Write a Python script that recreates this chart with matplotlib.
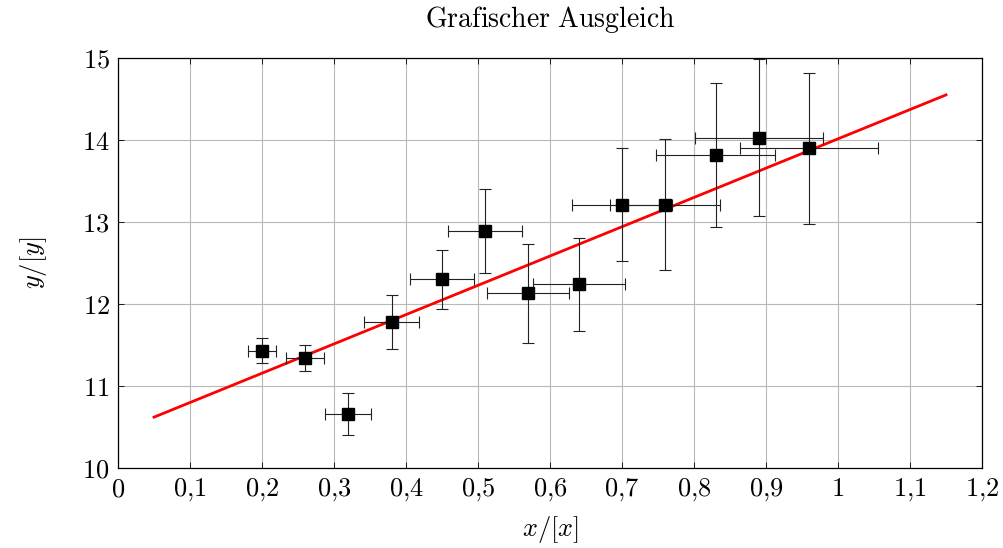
import matplotlib
matplotlib.use("Agg")
import matplotlib.pyplot as plt

# data
x = [0.20, 0.26, 0.32, 0.38, 0.45, 0.51, 0.57, 0.64, 0.70, 0.76, 0.83, 0.89, 0.96]
y = [11.43, 11.34, 10.66, 11.78, 12.30, 12.89, 12.13, 12.24, 13.21, 13.21, 13.82, 14.03, 13.90]
xerr = [0.020, 0.026, 0.032, 0.038, 0.045, 0.051, 0.057, 0.064, 0.070, 0.076, 0.083, 0.089, 0.096]
yerr = [0.15, 0.16, 0.26, 0.33, 0.36, 0.51, 0.60, 0.57, 0.69, 0.80, 0.88, 0.96, 0.92]
fit_x = [0.05, 1.15]
fit_y = [10.62, 14.55]
xticks = [0, 0.1, 0.2, 0.3, 0.4, 0.5, 0.6, 0.7, 0.8, 0.9, 1.0, 1.1, 1.2]
xticklabels = ["0", "0,1", "0,2", "0,3", "0,4", "0,5", "0,6", "0,7", "0,8", "0,9", "1", "1,1", "1,2"]
yticks = [10, 11, 12, 13, 14, 15]

plt.rcParams['mathtext.fontset'] = 'cm'
plt.rcParams['font.family'] = 'serif'
plt.rcParams['font.serif'] = ['DejaVu Serif']

fig = plt.figure(figsize=(10.04, 5.48), dpi=100)
ax = fig.add_axes([118/1004, 1-468/548, (982-118)/1004, (468-58)/548])

ax.plot(fit_x, fit_y, color='#ff0000', lw=2.0, zorder=2)
ax.errorbar(x, y, xerr=xerr, yerr=yerr, fmt='s', color='black', ms=9,
            ecolor='#222222', elinewidth=0.8, capsize=4, capthick=0.8, zorder=3)

ax.set_xlim(0, 1.2)
ax.set_ylim(10, 15)
ax.set_xticks(xticks)
ax.set_xticklabels(["$" + t.replace(",", "{,}") + "$" for t in xticklabels])
ax.set_yticks(yticks)
ax.set_yticklabels(["$%d$" % t for t in yticks])
ax.tick_params(direction='in', length=4, width=0.6, labelsize=19, top=True, right=True, pad=6)
ax.grid(True, color='#b8b8b8', lw=0.8)
ax.set_axisbelow(True)
for s in ax.spines.values():
    s.set_linewidth(0.9)

ax.set_title(r"$\mathrm{Grafischer\ Ausgleich}$", fontsize=20, pad=22)
ax.set_xlabel(r"$x/[x]$", fontsize=19, labelpad=8)
ax.set_ylabel(r"$y/[y]$", fontsize=19, labelpad=24)

fig.savefig("out.png", dpi=100)
